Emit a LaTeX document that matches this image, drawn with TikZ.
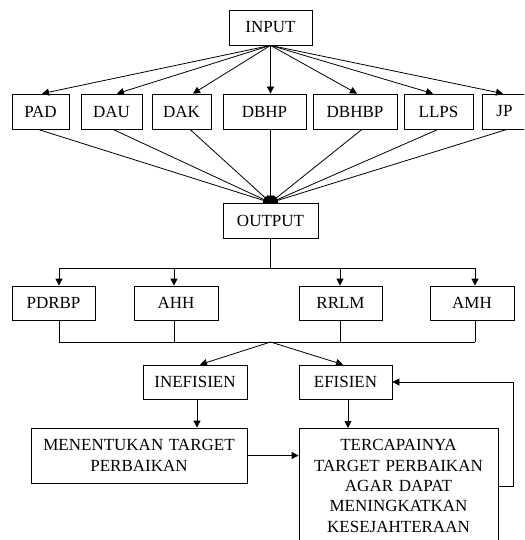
\documentclass[tikz,border=0pt]{standalone}
\usepackage{fontspec}
\setmainfont{Liberation Serif}
\usetikzlibrary{arrows.meta,positioning}

\begin{document}
\begin{tikzpicture}[x=1pt, y=-1pt, line width=0.8pt,
    box/.style={draw, minimum height=35pt, inner sep=2pt, font=\fontsize{17}{20.4}\selectfont},
    arr/.style={-{Triangle[length=7pt,width=7pt]}}]
    \useasboundingbox (0,0) rectangle (524,540);
    \clip (0,0) rectangle (524,540);

    \node[box, minimum width=83pt] (INPUT) at (270.5, 27.5) {INPUT};

    \node[box, minimum width=57pt] (PAD) at (40.5, 111.5) {PAD};
    \node[box, minimum width=61pt] (DAU) at (111.5, 111.5) {DAU};
    \node[box, minimum width=59pt] (DAK) at (181.5, 111.5) {DAK};
    \node[box, minimum width=83pt] (DBHP) at (264.5, 111.5) {DBHP};
    \node[box, minimum width=84pt] (DBHBP) at (355, 111.5) {DBHBP};
    \node[box, minimum width=69pt] (LLPS) at (438.5, 111.5) {LLPS};
    \node[box, minimum width=45pt] (JP) at (504.5, 111.5) {JP};

    \node[box, minimum width=95pt] (OUTPUT) at (270.5, 220.5) {OUTPUT};

    % fan out from INPUT, fan in to OUTPUT
    \foreach \n/\a/\b in {PAD/1.5/-2.5, DAU/5.5/1.5, DAK/11.5/8.5, DBHP/6/6, DBHBP/2/7, LLPS/-5.5/-0.5, JP/-1.5/2.5} {
        \draw[arr] (INPUT.south) -- ([xshift=\a pt]\n.north);
        \draw[arr] ([xshift=\b pt]\n.south) -- (OUTPUT.north);
    }

    \node[box, minimum width=83pt, minimum height=34pt] (PDRBP) at (53.5, 303) {PDRBP};
    \node[box, minimum width=84pt, minimum height=34pt] (AHH) at (176, 303) {AHH};
    \node[box, minimum width=83pt, minimum height=34pt] (RRLM) at (340.5, 303) {RRLM};
    \node[box, minimum width=84pt, minimum height=34pt] (AMH) at (472, 303) {AMH};

    \coordinate (split) at (270.5, 268);
    \coordinate (join) at (270.5, 342);
    \draw (OUTPUT.south) -- (split);
    \draw ([xshift=5.5pt]PDRBP.north |- split) -- ([xshift=3pt]AMH.north |- split);
    \draw ([xshift=5.5pt]PDRBP.south |- join) -- ([xshift=3pt]AMH.south |- join);
    \foreach \n/\a in {PDRBP/5.5, AHH/-2, RRLM/-0.5, AMH/3} {
        \draw[arr] ([xshift=\a pt]\n.north |- split) -- ([xshift=\a pt]\n.north);
        \draw ([xshift=\a pt]\n.south) -- ([xshift=\a pt]\n.south |- join);
    }

    \node[box, minimum width=104pt, minimum height=34pt] (INEF) at (195, 382) {INEFISIEN};
    \node[box, minimum width=93pt, minimum height=34pt] (EFIS) at (345.5, 382) {EFISIEN};
    \draw[arr] (join) -- ([xshift=5pt]INEF.north);
    \draw[arr] (join) -- ([xshift=-2.5pt]EFIS.north);

    \node[box, text width=208pt, inner xsep=4pt, minimum height=55pt, align=center] (MEN) at (139, 455.5) {MENENTUKAN TARGET\\PERBAIKAN};
    \node[box, text width=190pt, inner xsep=4.5pt, inner ysep=11pt, align=center, anchor=north] (TER) at (398.5, 428) {TERCAPAINYA\\TARGET PERBAIKAN\\AGAR DAPAT\\MENINGKATKAN\\KESEJAHTERAAN};

    \draw[arr] ([xshift=2pt]INEF.south) -- ([xshift=2pt]INEF.south |- MEN.north);
    \draw[arr] ([xshift=2.5pt]EFIS.south) -- ([xshift=2.5pt]EFIS.south |- TER.north);
    \draw[arr] (MEN.east) -- (MEN.east -| TER.west);
    \draw[arr] (TER.east) -- ++(15, 0) |- (EFIS.east);
\end{tikzpicture}
\end{document}
